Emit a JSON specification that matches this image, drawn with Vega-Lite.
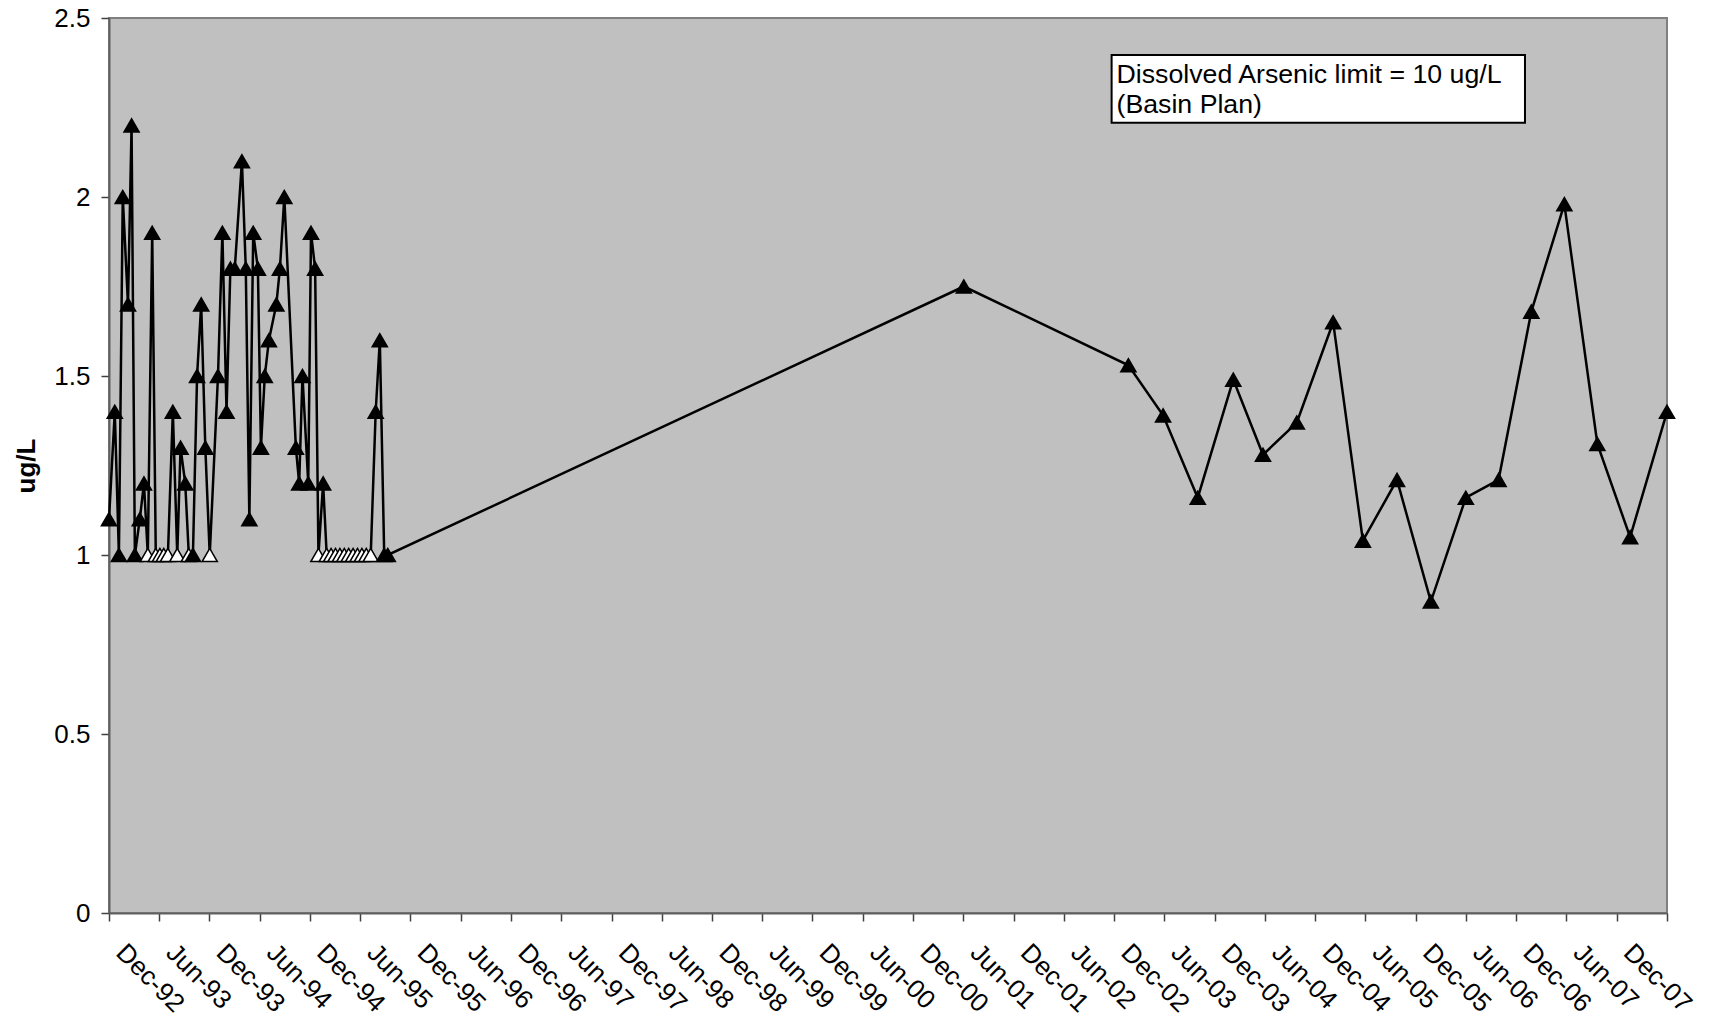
{
  "$schema": "https://vega.github.io/schema/vega-lite/v6.json",
  "width": 1558,
  "height": 895,
  "autosize": {"type": "none"},
  "padding": {"left": 109, "top": 18, "right": 43, "bottom": 111},
  "background": "white",
  "config": {
    "font": "Liberation Sans",
    "view": {"fill": "#C0C0C0", "stroke": "#808080", "strokeWidth": 2}
  },
  "datasets": {
    "arsenic": [
      {"date": "1992-12-01T00:00:00", "value": 1.1, "nd": "N"},
      {"date": "1992-12-22T00:00:00", "value": 1.4, "nd": "N"},
      {"date": "1993-01-06T00:00:00", "value": 1.0, "nd": "N"},
      {"date": "1993-01-20T00:00:00", "value": 2.0, "nd": "N"},
      {"date": "1993-02-08T00:00:00", "value": 1.7, "nd": "N"},
      {"date": "1993-02-21T00:00:00", "value": 2.2, "nd": "N"},
      {"date": "1993-03-05T00:00:00", "value": 1.0, "nd": "N"},
      {"date": "1993-03-23T00:00:00", "value": 1.1, "nd": "N"},
      {"date": "1993-04-07T00:00:00", "value": 1.2, "nd": "N"},
      {"date": "1993-04-21T00:00:00", "value": 1.0, "nd": "Y"},
      {"date": "1993-05-07T00:00:00", "value": 1.9, "nd": "N"},
      {"date": "1993-05-20T00:00:00", "value": 1.0, "nd": "Y"},
      {"date": "1993-06-04T00:00:00", "value": 1.0, "nd": "Y"},
      {"date": "1993-06-18T00:00:00", "value": 1.0, "nd": "Y"},
      {"date": "1993-07-03T00:00:00", "value": 1.0, "nd": "Y"},
      {"date": "1993-07-21T00:00:00", "value": 1.4, "nd": "N"},
      {"date": "1993-08-06T00:00:00", "value": 1.0, "nd": "Y"},
      {"date": "1993-08-18T00:00:00", "value": 1.3, "nd": "N"},
      {"date": "1993-09-04T00:00:00", "value": 1.2, "nd": "N"},
      {"date": "1993-09-17T00:00:00", "value": 1.0, "nd": "Y"},
      {"date": "1993-10-02T00:00:00", "value": 1.0, "nd": "N"},
      {"date": "1993-10-17T00:00:00", "value": 1.5, "nd": "N"},
      {"date": "1993-11-01T00:00:00", "value": 1.7, "nd": "N"},
      {"date": "1993-11-16T00:00:00", "value": 1.3, "nd": "N"},
      {"date": "1993-12-02T00:00:00", "value": 1.0, "nd": "Y"},
      {"date": "1994-01-01T00:00:00", "value": 1.5, "nd": "N"},
      {"date": "1994-01-17T00:00:00", "value": 1.9, "nd": "N"},
      {"date": "1994-02-01T00:00:00", "value": 1.4, "nd": "N"},
      {"date": "1994-02-15T00:00:00", "value": 1.8, "nd": "N"},
      {"date": "1994-03-03T00:00:00", "value": 1.8, "nd": "N"},
      {"date": "1994-03-29T00:00:00", "value": 2.1, "nd": "N"},
      {"date": "1994-04-12T00:00:00", "value": 1.8, "nd": "N"},
      {"date": "1994-04-25T00:00:00", "value": 1.1, "nd": "N"},
      {"date": "1994-05-09T00:00:00", "value": 1.9, "nd": "N"},
      {"date": "1994-05-26T00:00:00", "value": 1.8, "nd": "N"},
      {"date": "1994-06-06T00:00:00", "value": 1.3, "nd": "N"},
      {"date": "1994-06-20T00:00:00", "value": 1.5, "nd": "N"},
      {"date": "1994-07-05T00:00:00", "value": 1.6, "nd": "N"},
      {"date": "1994-08-01T00:00:00", "value": 1.7, "nd": "N"},
      {"date": "1994-08-14T00:00:00", "value": 1.8, "nd": "N"},
      {"date": "1994-08-30T00:00:00", "value": 2.0, "nd": "N"},
      {"date": "1994-10-11T00:00:00", "value": 1.3, "nd": "N"},
      {"date": "1994-10-23T00:00:00", "value": 1.2, "nd": "N"},
      {"date": "1994-11-04T00:00:00", "value": 1.5, "nd": "N"},
      {"date": "1994-11-25T00:00:00", "value": 1.2, "nd": "N"},
      {"date": "1994-12-05T00:00:00", "value": 1.9, "nd": "N"},
      {"date": "1994-12-20T00:00:00", "value": 1.8, "nd": "N"},
      {"date": "1995-01-01T00:00:00", "value": 1.0, "nd": "Y"},
      {"date": "1995-01-18T00:00:00", "value": 1.2, "nd": "N"},
      {"date": "1995-01-31T00:00:00", "value": 1.0, "nd": "Y"},
      {"date": "1995-02-16T00:00:00", "value": 1.0, "nd": "Y"},
      {"date": "1995-03-04T00:00:00", "value": 1.0, "nd": "Y"},
      {"date": "1995-03-20T00:00:00", "value": 1.0, "nd": "Y"},
      {"date": "1995-04-05T00:00:00", "value": 1.0, "nd": "Y"},
      {"date": "1995-04-21T00:00:00", "value": 1.0, "nd": "Y"},
      {"date": "1995-05-07T00:00:00", "value": 1.0, "nd": "Y"},
      {"date": "1995-05-23T00:00:00", "value": 1.0, "nd": "Y"},
      {"date": "1995-06-08T00:00:00", "value": 1.0, "nd": "Y"},
      {"date": "1995-06-24T00:00:00", "value": 1.0, "nd": "Y"},
      {"date": "1995-07-10T00:00:00", "value": 1.0, "nd": "Y"},
      {"date": "1995-07-28T00:00:00", "value": 1.4, "nd": "N"},
      {"date": "1995-08-12T00:00:00", "value": 1.6, "nd": "N"},
      {"date": "1995-08-28T00:00:00", "value": 1.0, "nd": "N"},
      {"date": "1995-09-10T00:00:00", "value": 1.0, "nd": "N"},
      {"date": "2001-06-03T00:00:00", "value": 1.75, "nd": "N"},
      {"date": "2003-01-22T00:00:00", "value": 1.53, "nd": "N"},
      {"date": "2003-05-28T00:00:00", "value": 1.39, "nd": "N"},
      {"date": "2003-10-01T00:00:00", "value": 1.16, "nd": "N"},
      {"date": "2004-02-07T00:00:00", "value": 1.49, "nd": "N"},
      {"date": "2004-05-25T00:00:00", "value": 1.28, "nd": "N"},
      {"date": "2004-09-25T00:00:00", "value": 1.37, "nd": "N"},
      {"date": "2005-02-04T00:00:00", "value": 1.65, "nd": "N"},
      {"date": "2005-05-23T00:00:00", "value": 1.04, "nd": "N"},
      {"date": "2005-09-24T00:00:00", "value": 1.21, "nd": "N"},
      {"date": "2006-01-25T00:00:00", "value": 0.87, "nd": "N"},
      {"date": "2006-06-01T00:00:00", "value": 1.16, "nd": "N"},
      {"date": "2006-09-28T00:00:00", "value": 1.21, "nd": "N"},
      {"date": "2007-01-25T00:00:00", "value": 1.68, "nd": "N"},
      {"date": "2007-05-25T00:00:00", "value": 1.98, "nd": "N"},
      {"date": "2007-09-22T00:00:00", "value": 1.31, "nd": "N"},
      {"date": "2008-01-19T00:00:00", "value": 1.05, "nd": "N"},
      {"date": "2008-06-01T00:00:00", "value": 1.4, "nd": "N"}
    ],
    "notebox": [
      {"date": "2002-11-22T00:00:00", "date2": "2007-01-02T00:00:00", "value": 2.3966, "value2": 2.2076}
    ],
    "notetext": [
      {"date": "2002-12-10T00:00:00", "value": 2.318, "label": "Dissolved Arsenic limit = 10 ug/L"},
      {"date": "2002-12-10T00:00:00", "value": 2.234, "label": "(Basin Plan)"}
    ]
  },
  "encoding": {
    "x": {
      "field": "date",
      "type": "temporal",
      "title": null,
      "scale": {
        "domain": [{"year": 1992, "month": 12, "date": 1}, {"year": 2008, "month": 6, "date": 1}],
        "nice": false
      },
      "axis": {
        "values": [
          {"year": 1992, "month": 12, "date": 1}, {"year": 1993, "month": 6, "date": 1},
          {"year": 1993, "month": 12, "date": 1}, {"year": 1994, "month": 6, "date": 1},
          {"year": 1994, "month": 12, "date": 1}, {"year": 1995, "month": 6, "date": 1},
          {"year": 1995, "month": 12, "date": 1}, {"year": 1996, "month": 6, "date": 1},
          {"year": 1996, "month": 12, "date": 1}, {"year": 1997, "month": 6, "date": 1},
          {"year": 1997, "month": 12, "date": 1}, {"year": 1998, "month": 6, "date": 1},
          {"year": 1998, "month": 12, "date": 1}, {"year": 1999, "month": 6, "date": 1},
          {"year": 1999, "month": 12, "date": 1}, {"year": 2000, "month": 6, "date": 1},
          {"year": 2000, "month": 12, "date": 1}, {"year": 2001, "month": 6, "date": 1},
          {"year": 2001, "month": 12, "date": 1}, {"year": 2002, "month": 6, "date": 1},
          {"year": 2002, "month": 12, "date": 1}, {"year": 2003, "month": 6, "date": 1},
          {"year": 2003, "month": 12, "date": 1}, {"year": 2004, "month": 6, "date": 1},
          {"year": 2004, "month": 12, "date": 1}, {"year": 2005, "month": 6, "date": 1},
          {"year": 2005, "month": 12, "date": 1}, {"year": 2006, "month": 6, "date": 1},
          {"year": 2006, "month": 12, "date": 1}, {"year": 2007, "month": 6, "date": 1},
          {"year": 2007, "month": 12, "date": 1}, {"year": 2008, "month": 6, "date": 1}
        ],
        "labelExpr": "(year(datum.value) == 2008 && month(datum.value) == 5) ? '' : timeFormat(datum.value, '%b-%y')",
        "labelAngle": 45,
        "labelAlign": "left",
        "labelBaseline": "top",
        "labelOffset": 20,
        "labelPadding": 18,
        "labelFontSize": 26,
        "labelColor": "black",
        "labelFont": "Liberation Sans",
        "labelOverlap": false,
        "labelBound": false,
        "labelFlush": false,
        "tickSize": 8,
        "tickColor": "#404040",
        "tickWidth": 1.5,
        "domainColor": "#606060",
        "domainWidth": 2,
        "grid": false
      }
    },
    "y": {
      "field": "value",
      "type": "quantitative",
      "title": "ug/L",
      "scale": {"domain": [0, 2.5], "nice": false, "zero": true},
      "axis": {
        "values": [0, 0.5, 1, 1.5, 2, 2.5],
        "format": "~g",
        "labelFontSize": 26,
        "labelColor": "black",
        "labelFont": "Liberation Sans",
        "labelPadding": 11,
        "tickSize": 8,
        "tickColor": "#404040",
        "tickWidth": 1.5,
        "domainColor": "#606060",
        "domainWidth": 2,
        "grid": false,
        "titleFont": "Liberation Sans",
        "titleFontSize": 26,
        "titleFontWeight": "bold",
        "titleColor": "black",
        "titlePadding": 14
      }
    }
  },
  "layer": [
    {
      "data": {"name": "notebox"},
      "mark": {"type": "rect", "fill": "white", "stroke": "black", "strokeWidth": 2},
      "encoding": {
        "x2": {"field": "date2"},
        "y2": {"field": "value2"}
      }
    },
    {
      "data": {"name": "notetext"},
      "mark": {"type": "text", "align": "left", "baseline": "alphabetic", "fontSize": 26.7, "font": "Liberation Sans", "color": "black"},
      "encoding": {
        "text": {"field": "label"}
      }
    },
    {
      "data": {"name": "arsenic"},
      "mark": {"type": "line", "color": "black", "strokeWidth": 2.5},
      "encoding": {}
    },
    {
      "data": {"name": "arsenic"},
      "mark": {"type": "point", "shape": "triangle-up", "size": 230, "stroke": "black", "strokeWidth": 1.5, "opacity": 1, "filled": true},
      "encoding": {
        "fill": {
          "field": "nd",
          "type": "nominal",
          "scale": {"domain": ["Y", "N"], "range": ["white", "black"]},
          "legend": null
        }
      }
    }
  ]
}
